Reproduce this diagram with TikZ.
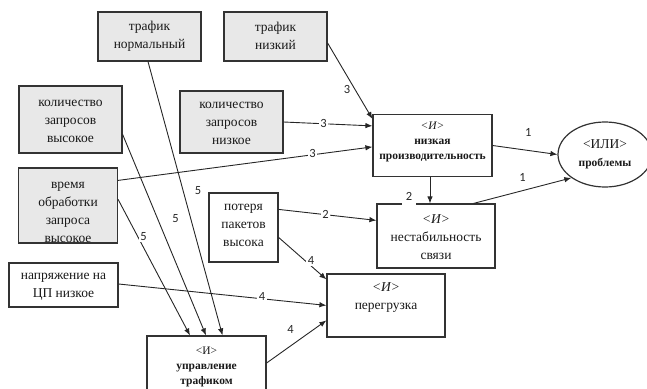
\documentclass[tikz,border=0pt]{standalone}
\usepackage{fontspec}
\setmainfont{Liberation Serif}
\newfontfamily\lblfont{Carlito}
\usetikzlibrary{arrows.meta,shapes.geometric,calc}
\begin{document}
\begin{tikzpicture}[x=1pt,y=-1pt,
  bx/.style={draw=black!80,line width=1.2pt,inner sep=0pt,rectangle},
  gbx/.style={bx,fill=black!9},
  txt/.style={align=center,inner sep=0pt,text=black!90,font=\fontsize{13.5}{18}\selectfont},
  btxt/.style={align=center,inner sep=0pt,text=black!90,font=\bfseries\fontsize{11.5}{15}\selectfont},
  con/.style={draw=black!85,line width=0.9pt,-{Latex[length=7pt,width=5.5pt]}},
  lbl/.style={font=\lblfont\fontsize{12.5}{13}\selectfont,text=black!85,inner sep=1.5pt},
  wl/.style={lbl,fill=white}
]
\useasboundingbox (0,0) rectangle (647,388);

% input boxes
\node[gbx,minimum width=103,minimum height=49] (tn) at (149.5,36.5) {};
\node[txt] (tnt) at (149.5,36) {трафик\\нормальный};
\node[gbx,minimum width=103,minimum height=49] (tl) at (275.5,36.5) {};
\node[txt] (tlt) at (275.5,36) {трафик\\низкий};
\node[gbx,minimum width=103,minimum height=67] (kv) at (70.5,119.5) {};
\node[txt] (kvt) at (70.5,121) {количество\\запросов\\высокое};
\node[gbx,minimum width=103,minimum height=62] (kn) at (231.5,122) {};
\node[txt] (knt) at (231.5,123) {количество\\запросов\\низкое};
\node[gbx,minimum width=99,minimum height=75] (vr) at (68,205.5) {};
\begin{scope}
  \clip (19,168) rectangle (117,241);
  \node[txt,anchor=north] (vrt) at (68,182) {время\\обработки\\запроса\\высокое};
\end{scope}
\node[bx,minimum width=69,minimum height=69] (pp) at (243.5,227.5) {};
\node[txt] (ppt) at (243.5,225.5) {потеря\\пакетов\\высока};
\node[bx,minimum width=109,minimum height=44] (np) at (63.5,285) {};
\node[txt] (npt) at (63.5,286.5) {напряжение на\\ЦП низкое};

% И nodes
\node[bx,minimum width=119,minimum height=62] (lp) at (432.5,145.5) {};
\node[btxt] (lpt) at (432.5,141.5) {\mdseries\itshape <И>\\низкая\\производительность};
\node[bx,minimum width=118,minimum height=64] (ns) at (436,236) {};
\node[txt] (nst) at (436,237.5) {\itshape <И>\\нестабильность\\связи};
\node[bx,minimum width=118,minimum height=63] (pg) at (386,305.5) {};
\node[txt] (pgt) at (386,297.5) {\itshape <И>\\перегрузка};
\node[bx,minimum width=119,minimum height=60] (ut) at (206.5,366) {};
\node[btxt] (utt) at (206.5,367) {\mdseries <И>\\управление\\трафиком};
\node[ellipse,draw=black!80,line width=1.2pt,inner sep=0pt,minimum width=94,minimum height=65] (el) at (605,154.5) {};
\node[txt] (elt) at (605,154) {<ИЛИ>\\\bfseries\fontsize{11.5}{15}\selectfont проблемы};

% connectors to низкая производительность
\draw[con] ([yshift=-6.5pt]tl.east) -- ([yshift=-5pt]lp.north west);
\node[lbl] at (347,89) {3};
\draw[con] (kn.east) -- node[wl,pos=0.45] {3} ([yshift=-12pt]lp.north west);
\draw[con] ([yshift=-13pt]vr.north east) -- node[wl,pos=0.765,yshift=1pt] {3} ([yshift=-33pt]lp.north west);

% to проблемы
\draw[con] (lp.east) -- node[lbl,pos=0.55,yshift=18pt] {1} (el.west);
\draw[con] ([xshift=-22pt]ns.north east) -- node[lbl,pos=0.5,yshift=13pt] {1} (el.south west);

% to нестабильность
\draw[con] ([xshift=-2.5pt]lp.south) -- ([xshift=-6pt]ns.north);
\node[wl,minimum width=14pt,minimum height=24pt,text depth=0pt] at (409,196) {2};
\draw[con] ([yshift=-17pt]pp.north east) -- node[wl,pos=0.48] {2} ([yshift=-17pt]ns.north west);

% to перегрузка
\draw[con] ([yshift=-45pt]pp.north east) -- node[wl,pos=0.68,yshift=5pt] {4} ([yshift=-6pt]pg.north west);
\draw[con] ([yshift=1pt]np.east) -- node[wl,pos=0.69,yshift=2pt] {4} ([yshift=-32pt]pg.north west);
\draw[con] ([yshift=3pt]ut.east) -- node[lbl,pos=0.4,yshift=16pt] {4} ([yshift=-47pt]pg.north west);

% to управление трафиком
\draw[con] ([yshift=-49pt]kv.north east) -- node[lbl,pos=0.42,xshift=18pt] {5} ([xshift=-0.5pt]ut.north);
\draw[con] ([xshift=-1.5pt]tn.south) -- node[lbl,pos=0.47,xshift=15pt] {5} ([xshift=16pt]ut.north);
\draw[con] ([yshift=-32pt]vr.north east) -- node[wl,pos=0.27,xshift=6pt] {5} ([xshift=-16.5pt]ut.north);
\end{tikzpicture}
\end{document}
